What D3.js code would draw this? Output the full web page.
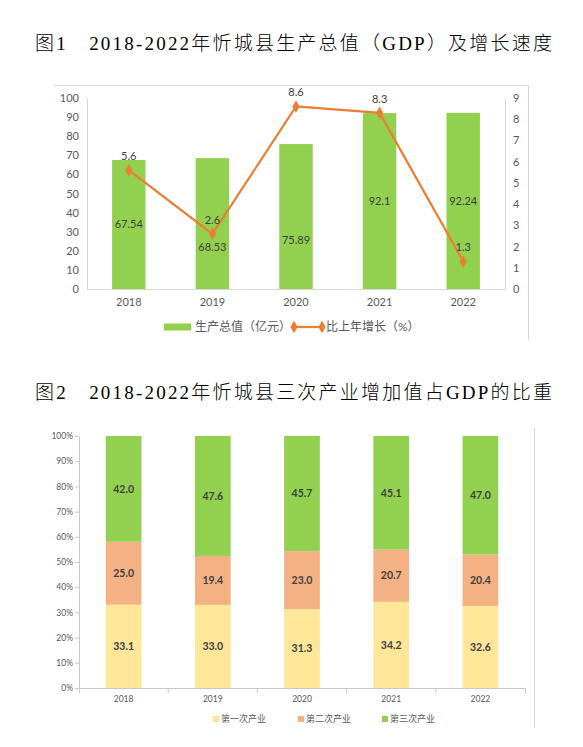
<!DOCTYPE html>
<html>
<head>
<meta charset="utf-8">
<script src="https://cdn.jsdelivr.net/npm/d3@7"></script>
<style>
  body { margin: 0; background: #fff; }
  svg { display: block; }
  text { font-family: Lato, "Noto Sans CJK SC", sans-serif; }
  .title { font-family: "Liberation Serif", "Noto Sans CJK SC", serif; font-weight: 300; fill: #000; }
</style>
</head>
<body>
<div class="chart"></div>
<script>
// chart 1 data: GDP and growth rate
const years = ["2018", "2019", "2020", "2021", "2022"];
const gdpValues = [67.54, 68.53, 75.89, 92.1, 92.24];
const growthRates = [5.6, 2.6, 8.6, 8.3, 1.3];
const gdpTicks = [0, 10, 20, 30, 40, 50, 60, 70, 80, 90, 100];
const growthTicks = [0, 1, 2, 3, 4, 5, 6, 7, 8, 9];
const chart1Legend = ["生产总值（亿元）", "比上年增长（%）"];

// chart 2 data: share of the three industries
const primaryShare = [33.1, 33.0, 31.3, 34.2, 32.6];
const secondaryShare = [25.0, 19.4, 23.0, 20.7, 20.4];
const tertiaryShare = [42.0, 47.6, 45.7, 45.1, 47.0];
const shareTicks = [0, 10, 20, 30, 40, 50, 60, 70, 80, 90, 100];
const industryNames = ["第一次产业", "第二次产业", "第三次产业"];

const title1 = "图1\u30002018-2022年忻城县生产总值（GDP）及增长速度";
const title2 = "图2\u30002018-2022年忻城县三次产业增加值占GDP的比重";

const green = "#92D050", orange = "#ED7D31";
const axisGray = "#d9d9d9", labelGray = "#595959", dataGray = "#404040";

const svg = d3.select(".chart").append("svg")
  .attr("width", 583)
  .attr("height", 747);

// titles
svg.append("text").attr("class", "title")
  .attr("x", 35).attr("y", 50)
  .attr("font-size", 19)
  .attr("textLength", 517).attr("lengthAdjust", "spacing")
  .text(title1);
svg.append("text").attr("class", "title")
  .attr("x", 35).attr("y", 399)
  .attr("font-size", 19)
  .attr("textLength", 517).attr("lengthAdjust", "spacing")
  .text(title2);

// ---------- chart 1 ----------
const c1 = svg.append("g");
c1.append("path")
  .attr("d", "M54,85.5H528.5V340")
  .attr("fill", "none").attr("stroke", axisGray);

const x1 = d3.scaleBand().domain(years).range([87, 505])
  .paddingInner(0.6).paddingOuter(0.3);
const yL = d3.scaleLinear().domain([0, 100]).range([289, 98]);
const yR = d3.scaleLinear().domain([0, 9]).range([289, 98]);

c1.selectAll("rect.gdp")
  .data(gdpValues)
  .enter().append("rect")
  .attr("class", "gdp")
  .attr("x", (d, i) => x1(years[i]))
  .attr("y", d => yL(d))
  .attr("width", x1.bandwidth())
  .attr("height", d => yL(0) - yL(d))
  .attr("fill", green);

const leftAxis = c1.append("g")
  .attr("transform", "translate(87,0)")
  .call(d3.axisLeft(yL).tickValues(gdpTicks).tickSize(0).tickPadding(8));
const rightAxis = c1.append("g")
  .attr("transform", "translate(505,0)")
  .call(d3.axisRight(yR).tickValues(growthTicks).tickSize(0).tickPadding(8));
const bottomAxis = c1.append("g")
  .attr("transform", "translate(0,289)")
  .call(d3.axisBottom(x1).tickSize(0).tickPadding(9).tickSizeOuter(0));
[leftAxis, rightAxis, bottomAxis].forEach(a => {
  a.select(".domain").attr("stroke", axisGray);
  a.selectAll("text").attr("font-size", 11).attr("fill", labelGray);
});

// bar value labels (two nudged down to clear the line labels)
const barLabelNudge = [0, 24, 24, 0, 0];
c1.selectAll("text.gdpLabel")
  .data(gdpValues)
  .enter().append("text")
  .attr("class", "gdpLabel")
  .attr("x", (d, i) => x1(years[i]) + x1.bandwidth() / 2)
  .attr("y", (d, i) => (yL(d) + yL(0)) / 2 + barLabelNudge[i])
  .attr("dy", "0.35em")
  .attr("text-anchor", "middle")
  .attr("font-size", 11)
  .attr("fill", dataGray)
  .text(d => d);

// growth line
const line = d3.line()
  .x((d, i) => x1(years[i]) + x1.bandwidth() / 2)
  .y(d => yR(d));
c1.append("path")
  .datum(growthRates)
  .attr("d", line)
  .attr("fill", "none")
  .attr("stroke", orange)
  .attr("stroke-width", 2.2);
const diamond = d3.symbol().type(d3.symbolDiamond).size(45);
c1.selectAll("path.marker")
  .data(growthRates)
  .enter().append("path")
  .attr("class", "marker")
  .attr("d", diamond)
  .attr("transform", (d, i) => `translate(${x1(years[i]) + x1.bandwidth() / 2},${yR(d)})`)
  .attr("fill", orange);
c1.selectAll("text.rateLabel")
  .data(growthRates)
  .enter().append("text")
  .attr("class", "rateLabel")
  .attr("x", (d, i) => x1(years[i]) + x1.bandwidth() / 2)
  .attr("y", d => yR(d) - 14)
  .attr("dy", "0.35em")
  .attr("text-anchor", "middle")
  .attr("font-size", 11)
  .attr("fill", dataGray)
  .text(d => d.toFixed(1));

// legend 1
const lg1 = c1.append("g").attr("transform", "translate(0,327)");
lg1.append("rect").attr("x", 164).attr("y", -3.5).attr("width", 27).attr("height", 7).attr("fill", green);
lg1.append("text").attr("x", 195).attr("dy", "0.35em").attr("font-size", 12)
  .attr("fill", labelGray).text(chart1Legend[0]);
lg1.append("line").attr("x1", 294).attr("x2", 322)
  .attr("stroke", orange).attr("stroke-width", 2.2);
[294, 322].forEach(px => lg1.append("path").attr("d", diamond)
  .attr("transform", `translate(${px},0)`).attr("fill", orange));
lg1.append("text").attr("x", 326).attr("dy", "0.35em").attr("font-size", 12)
  .attr("fill", labelGray).text(chart1Legend[1]);

// ---------- chart 2 ----------
const c2 = svg.append("g");
c2.append("line")
  .attr("x1", 534.5).attr("x2", 534.5).attr("y1", 428).attr("y2", 728)
  .attr("stroke", axisGray);

const keys = ["primary", "secondary", "tertiary"];
const colors = d3.scaleOrdinal().domain(keys).range(["#FFE699", "#F4B183", green]);
const table = years.map((y, i) => ({
  year: y,
  primary: primaryShare[i],
  secondary: secondaryShare[i],
  tertiary: tertiaryShare[i]
}));
const stacked = d3.stack().keys(keys).offset(d3.stackOffsetExpand)(table);

const x2 = d3.scaleBand().domain(years).range([79, 525])
  .paddingInner(0.6).paddingOuter(0.3);
const y2 = d3.scaleLinear().domain([0, 1]).range([688, 436]);

const layers = c2.selectAll("g.layer")
  .data(stacked)
  .enter().append("g")
  .attr("class", "layer")
  .attr("fill", d => colors(d.key));
layers.selectAll("rect")
  .data(d => d)
  .enter().append("rect")
  .attr("x", d => x2(d.data.year))
  .attr("y", d => y2(d[1]))
  .attr("width", x2.bandwidth())
  .attr("height", d => y2(d[0]) - y2(d[1]));
stacked.forEach(layer => {
  c2.selectAll(null)
    .data(layer)
    .enter().append("text")
    .attr("x", d => x2(d.data.year) + x2.bandwidth() / 2)
    .attr("y", d => (y2(d[0]) + y2(d[1])) / 2)
    .attr("dy", "0.35em")
    .attr("text-anchor", "middle")
    .attr("font-size", 10.5)
    .attr("font-weight", "bold")
    .attr("fill", dataGray)
    .text(d => d.data[layer.key].toFixed(1));
});

const y2Axis = c2.append("g")
  .attr("transform", "translate(79,0)")
  .call(d3.axisLeft(d3.scaleLinear().domain([0, 100]).range([688, 436]))
    .tickValues(shareTicks).tickFormat(d => d + "%").tickSize(4).tickSizeOuter(0).tickPadding(2));
const x2Axis = c2.append("g")
  .attr("transform", "translate(0,688)")
  .call(d3.axisBottom(x2).tickSizeInner(0).tickSizeOuter(5).tickPadding(8));
[y2Axis, x2Axis].forEach(a => {
  a.selectAll(".domain, line").attr("stroke", "#c8c8c8");
  a.selectAll("text").attr("font-size", 8.5).attr("fill", labelGray);
});
// category separators on the x axis
x2Axis.selectAll("line.sep")
  .data(years.slice(1))
  .enter().append("line")
  .attr("class", "sep")
  .attr("x1", d => x2(d) - x2.step() * x2.paddingInner() / 2)
  .attr("x2", d => x2(d) - x2.step() * x2.paddingInner() / 2)
  .attr("y1", 0).attr("y2", 5)
  .attr("stroke", "#c8c8c8");

// legend 2
const lg2 = c2.append("g").attr("transform", "translate(0,719)");
const legendX = [213, 298, 382];
keys.forEach((k, i) => {
  lg2.append("rect").attr("x", legendX[i]).attr("y", -3).attr("width", 6).attr("height", 6)
    .attr("fill", colors(k));
  lg2.append("text").attr("x", legendX[i] + 8).attr("dy", "0.35em")
    .attr("font-size", 9).attr("fill", labelGray).text(industryNames[i]);
});
</script>
</body>
</html>
